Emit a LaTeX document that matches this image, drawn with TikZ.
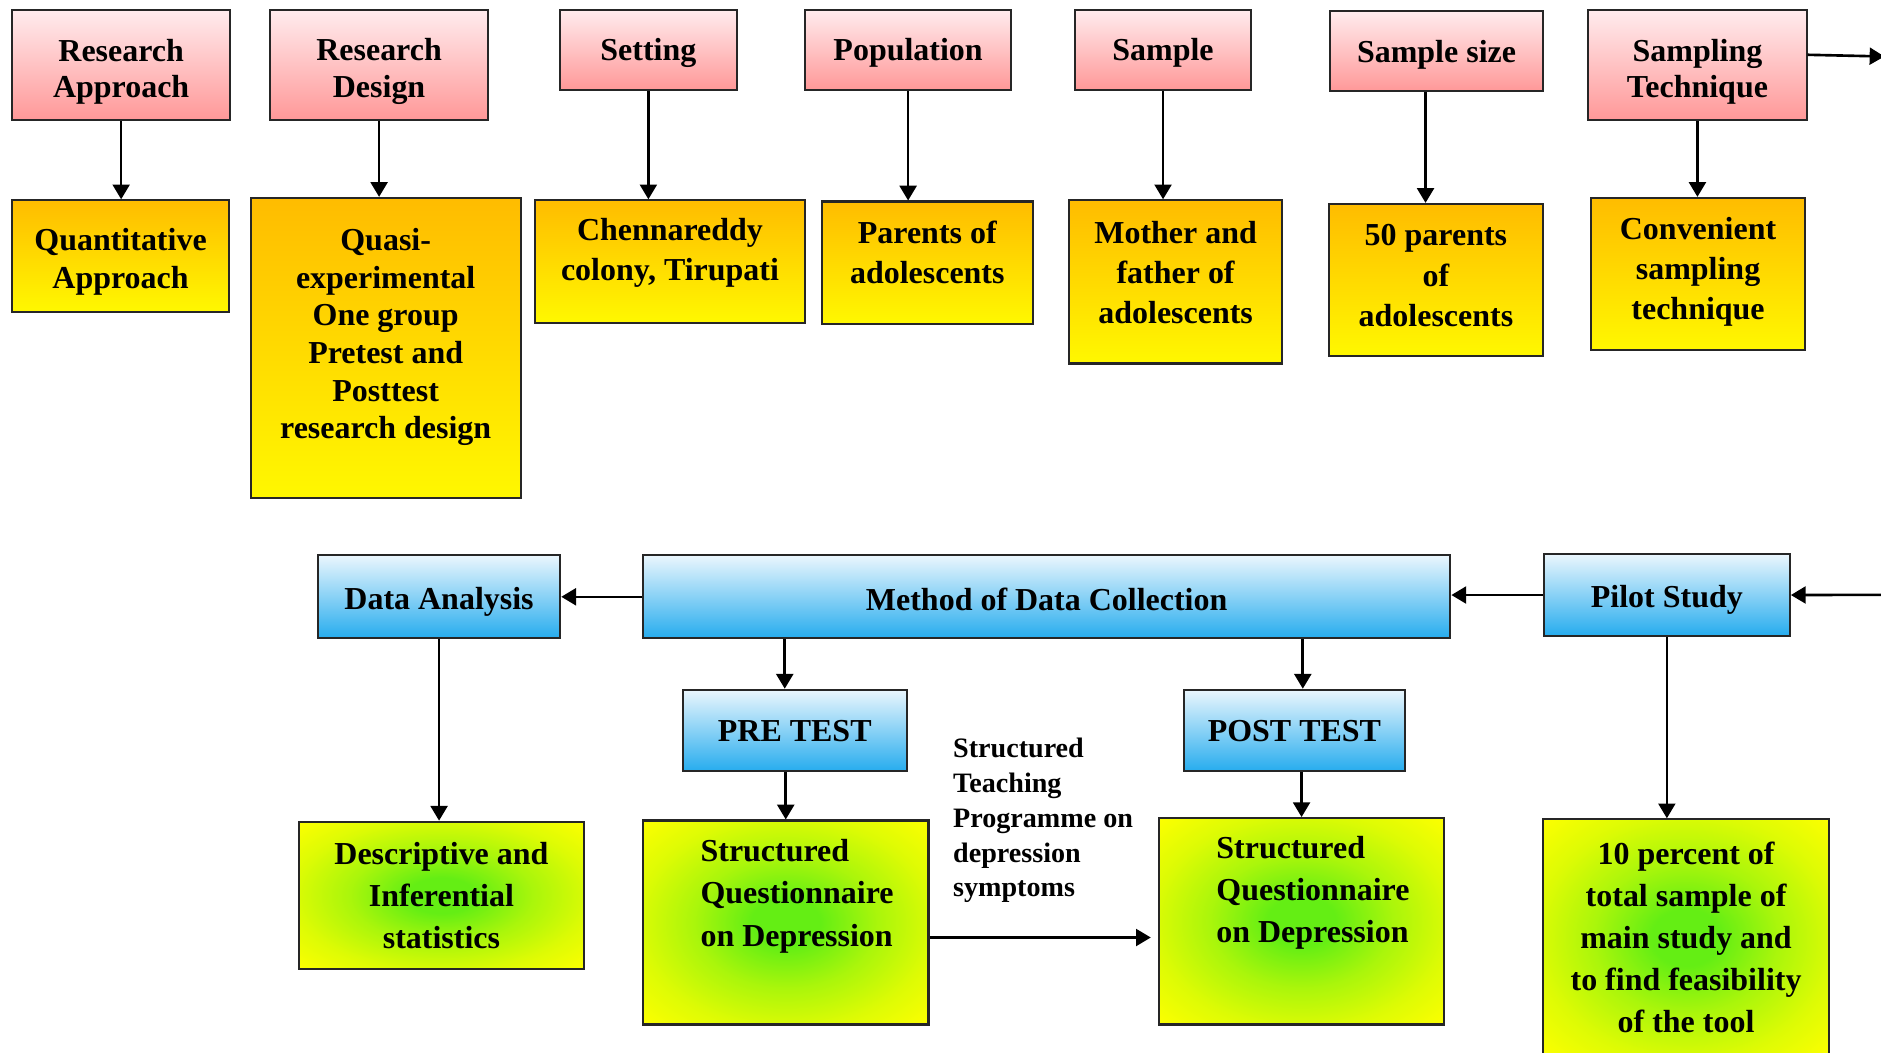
\documentclass[tikz,border=0pt]{standalone}
\usepackage{fontspec}
\setmainfont{Liberation Serif}
\usetikzlibrary{arrows.meta, positioning, calc}
\definecolor{headtop}{RGB}{255, 236, 238}
\definecolor{headbot}{RGB}{255, 152, 152}
\definecolor{anstop}{RGB}{255, 188, 0}
\definecolor{ansbot}{RGB}{255, 248, 0}
\definecolor{phasetop}{RGB}{234, 246, 253}
\definecolor{phasebot}{RGB}{38, 172, 238}
\definecolor{toolmid}{RGB}{100, 238, 20}
\definecolor{tooledge}{RGB}{255, 255, 0}
\pgfdeclareradialshading{toolglow}{\pgfpointorigin}{color(0bp)=(toolmid); color(6bp)=(toolmid); color(16bp)=(toolmid!55!tooledge); color(26bp)=(toolmid!22!tooledge); color(36bp)=(tooledge); color(50bp)=(tooledge)}

\begin{document}
\begin{tikzpicture}[
    headbox/.style={rectangle, draw=black!85, line width=0.6pt, top color=headtop, bottom color=headbot,
                    align=center, inner sep=1pt, font=\fontsize{9.1}{10.5}\selectfont\bfseries},
    ansbox/.style={rectangle, draw=black!85, line width=0.6pt, top color=anstop, bottom color=ansbot,
                   align=center, inner sep=1pt, font=\fontsize{9.1}{11.4}\selectfont\bfseries},
    phasebox/.style={rectangle, draw=black!85, line width=0.6pt, top color=phasetop, bottom color=phasebot,
                     align=center, inner sep=1pt, font=\fontsize{9.1}{10.5}\selectfont\bfseries},
    toolbox/.style={rectangle, draw=black!85, line width=0.6pt, shading=toolglow,
                    align=center, inner sep=1pt, font=\fontsize{9.1}{12}\selectfont\bfseries},
    arr/.style={-{Triangle[width=4.8pt, length=4.2pt]}, line width=0.75pt}
]
\path[use as bounding box, fill=white] (0,0) rectangle (18.816,-10.524);

% Row 1: study elements
\node[headbox, text height=20.8pt, minimum width=2.184cm, minimum height=1.104cm] (appr) at (1.212,-0.648) {Research\\Approach};
\node[headbox, text height=20.8pt, minimum width=2.184cm, minimum height=1.104cm] (design) at (3.792,-0.648) {Research\\Design};
\node[headbox, text depth=0pt, minimum width=1.764cm, minimum height=0.804cm] (setting) at (6.486,-0.498) {Setting};
\node[headbox, text depth=0pt, minimum width=2.064cm, minimum height=0.804cm] (popul) at (9.084,-0.498) {Population};
\node[headbox, text depth=0pt, minimum width=1.764cm, minimum height=0.804cm] (sample) at (11.634,-0.498) {Sample};
\node[headbox, text depth=0pt, minimum width=2.124cm, minimum height=0.804cm] (size) at (14.37,-0.51) {Sample size};
\node[headbox, text height=20.8pt, minimum width=2.184cm, minimum height=1.104cm] (techn) at (16.98,-0.648) {Sampling\\Technique};

% Row 2: choices made
\node[ansbox, font=\fontsize{9.1}{10.6}\selectfont\bfseries, text height=20.1pt, minimum width=2.172cm, minimum height=1.116cm] (quant) at (1.206,-2.562) {Quantitative\\Approach};
\node[ansbox, font=\fontsize{9.1}{10.7}\selectfont\bfseries, text depth=8.1pt, minimum width=2.7cm, minimum height=3cm] (quasi) at (3.858,-3.48) {Quasi-\\experimental\\One group\\Pretest and\\Posttest\\research design};
\node[ansbox, text depth=6.8pt, minimum width=2.7cm, minimum height=1.224cm] (chenna) at (6.702,-2.616) {Chennareddy\\colony, Tirupati};
\node[ansbox, text depth=6.1pt, minimum width=2.112cm, minimum height=1.224cm] (parents) at (9.276,-2.628) {Parents of\\adolescents};
\node[ansbox, text depth=5.4pt, minimum width=2.136cm, minimum height=1.632cm] (mother) at (11.76,-2.82) {Mother and\\father of\\adolescents};
\node[ansbox, text depth=2.7pt, minimum width=2.136cm, minimum height=1.524cm] (fifty) at (14.364,-2.802) {50 parents\\of\\adolescents};
\node[ansbox, text depth=3.4pt, minimum width=2.148cm, minimum height=1.524cm] (conv) at (16.986,-2.742) {Convenient\\sampling\\technique};

\draw[arr] (appr) -- (appr |- quant.north);
\draw[arr] (design) -- (design |- quasi.north);
\draw[arr] (setting) -- (setting |- chenna.north);
\draw[arr] (popul) -- (popul |- parents.north);
\draw[arr] (sample) -- (sample |- mother.north);
\draw[arr] ([xshift=-0.11cm]size.south) -- ([xshift=-0.11cm]size.south |- fifty.north);
\draw[arr] (techn) -- (techn |- conv.north);

% Row 3: data collection
\node[phasebox, text height=8.9pt, minimum width=2.424cm, minimum height=0.828cm] (analysis) at (4.392,-5.97) {Data Analysis};
\node[phasebox, text height=7.6pt, minimum width=8.076cm, minimum height=0.828cm] (method) at (10.47,-5.97) {Method of Data Collection};
\node[phasebox, text height=8.9pt, minimum width=2.46cm, minimum height=0.816cm] (pilot) at (16.674,-5.952) {Pilot Study};
\node[phasebox, minimum width=2.244cm, minimum height=0.816cm] (pre) at (7.95,-7.308) {PRE TEST};
\node[phasebox, minimum width=2.208cm, minimum height=0.816cm] (post) at (12.948,-7.308) {POST TEST};

% Row 4: tools
\node[toolbox, minimum width=2.856cm, minimum height=1.476cm] (stats) at (4.416,-8.958) {Descriptive and\\Inferential\\statistics};
\node[toolbox, inner sep=0pt, minimum width=2.856cm, minimum height=2.04cm] (sqpre) at (7.86,-9.228) {%
    \begin{minipage}[c][1.66cm][t]{2.856cm}
    \raggedright\leftskip=0.576cm
    Structured\\Questionnaire\\on Depression
    \end{minipage}%
};
\node[toolbox, inner sep=0pt, minimum width=2.856cm, minimum height=2.064cm] (sqpost) at (13.02,-9.216) {%
    \begin{minipage}[c][1.7cm][t]{2.856cm}
    \raggedright\leftskip=0.576cm
    Structured\\Questionnaire\\on Depression
    \end{minipage}%
};
\node[toolbox, minimum width=2.868cm, minimum height=2.364cm] (tenpct) at (16.866,-9.378) {10 percent of\\total sample of\\main study and\\to find feasibility\\of the tool};
\node[anchor=west, align=left, inner sep=0pt, font=\fontsize{8}{9.9}\selectfont\bfseries] (stp) at (9.528,-8.208) {Structured\\Teaching\\Programme on\\depression\\symptoms};

% connectors
\coordinate (outtop) at (18.85,-0.565);
\coordinate (inlow) at (18.85,-5.95);
\draw[arr] ([yshift=0.1cm]techn.east) -- (outtop);
\draw[arr] (inlow) -- (pilot.east);
\draw[arr] (pilot) -- (pilot -| method.east);
\draw[arr] (method) -- (analysis);
\draw[arr] ([xshift=-0.1cm]pre.north |- method.south) -- ([xshift=-0.1cm]pre.north);
\draw[arr] ([xshift=0.084cm]post.north |- method.south) -- ([xshift=0.084cm]post.north);
\draw[arr] (pre.south -| sqpre.north) -- (sqpre.north);
\draw[arr] (post.south -| sqpost.north) -- (sqpost.north);
\draw[arr] (analysis) -- (analysis |- stats.north);
\draw[arr] (pilot) -- (pilot |- tenpct.north);
\draw[arr, shorten >=0.07cm] ([yshift=-0.15cm]sqpre.east) -- ([yshift=-0.15cm]sqpre.east -| sqpost.west);

\end{tikzpicture}
\end{document}
